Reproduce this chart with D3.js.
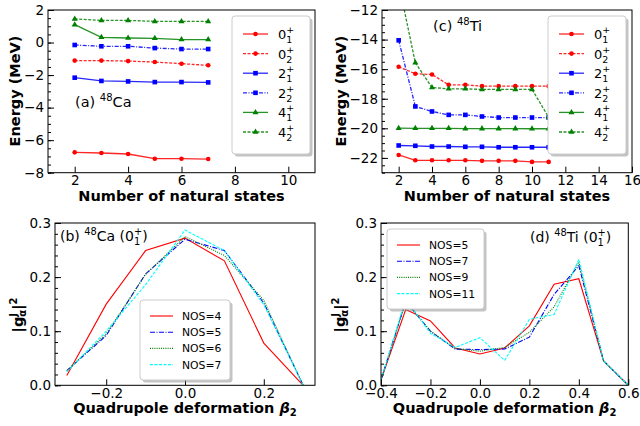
<!DOCTYPE html>
<html>
<head>
<meta charset="utf-8">
<script src="https://cdn.jsdelivr.net/npm/d3@7"></script>
<style>
  body { margin: 0; background: #fff; }
  svg { display: block; font-family: "DejaVu Sans", sans-serif; }
  svg text { white-space: pre; }
</style>
</head>
<body>
<div id="chart"></div>
<script>
// ---- data ----
const natCa = [2, 3, 4, 5, 6, 7];
const caE01 = [-6.75, -6.79, -6.85, -7.14, -7.14, -7.16];
const caE02 = [-1.11, -1.11, -1.14, -1.2, -1.3, -1.4];
const caE21 = [-2.16, -2.36, -2.39, -2.43, -2.43, -2.45];
const caE22 = [-0.15, -0.23, -0.23, -0.34, -0.4, -0.4];
const caE41 = [1.1, 0.32, 0.28, 0.26, 0.18, 0.18];
const caE42 = [1.45, 1.36, 1.36, 1.3, 1.3, 1.3];

const natTi = [2, 3, 4, 5, 6, 7, 8, 9, 10, 11];
const tiE01 = [-21.8, -22.16, -22.16, -22.16, -22.16, -22.2, -22.2, -22.2, -22.27, -22.27];
const tiE02 = [-15.84, -16.31, -16.36, -17.06, -17.06, -17.15, -17.15, -17.15, -17.15, -17.15];
const tiE21 = [-21.16, -21.18, -21.23, -21.23, -21.25, -21.25, -21.28, -21.28, -21.28, -21.28];
const tiE22 = [-14.05, -18.52, -18.86, -19.09, -19.09, -19.2, -19.27, -19.27, -19.27, -19.27];
const tiE41 = [-19.99, -20.0, -20.0, -20.0, -20.02, -20.02, -20.02, -20.02, -20.03, -20.03];
const tiE42 = [-10.2, -15.57, -17.24, -17.33, -17.33, -17.37, -17.37, -17.37, -17.37, -19.25];

const stateNames = [['0', '1'], ['0', '2'], ['2', '1'], ['2', '2'], ['4', '1'], ['4', '2']];

const betaCa = [-0.3, -0.2, -0.1, 0, 0.1, 0.2, 0.3];
const caNos4 = [0.018, 0.15, 0.249, 0.272, 0.23, 0.078, 0];
const caNos5 = [0.027, 0.092, 0.206, 0.27, 0.249, 0.152, 0];
const caNos6 = [0.027, 0.095, 0.205, 0.275, 0.24, 0.157, 0];
const caNos7 = [0.025, 0.1, 0.186, 0.287, 0.249, 0.149, 0];
const caNosLabels = ['NOS=4', 'NOS=5', 'NOS=6', 'NOS=7'];

const betaTi = [-0.4, -0.3, -0.2, -0.1, 0, 0.1, 0.2, 0.3, 0.4, 0.5, 0.6];
const tiNos5 = [0.01, 0.14, 0.119, 0.069, 0.058, 0.069, 0.11, 0.187, 0.197, 0.045, 0];
const tiNos7 = [0.01, 0.155, 0.1, 0.067, 0.066, 0.067, 0.089, 0.168, 0.221, 0.045, 0];
const tiNos9 = [0.01, 0.155, 0.1, 0.068, 0.063, 0.07, 0.098, 0.145, 0.228, 0.045, 0];
const tiNos11 = [0.01, 0.16, 0.096, 0.07, 0.088, 0.046, 0.122, 0.131, 0.233, 0.045, 0];
const tiNosLabels = ['NOS=5', 'NOS=7', 'NOS=9', 'NOS=11'];

// styles for the series
const stateStyles = [
  { color: 'red', dash: null, marker: 'circle' },
  { color: 'red', dash: '3,1.5', marker: 'circle' },
  { color: 'blue', dash: null, marker: 'square' },
  { color: 'blue', dash: '4,1.5,1,1.5', marker: 'square' },
  { color: 'green', dash: null, marker: 'triangle' },
  { color: 'green', dash: '3,1.5', marker: 'triangle' }
];
const nosStyles = [
  { color: 'red', dash: null },
  { color: 'blue', dash: '5,1.5,1,1.5' },
  { color: 'green', dash: '1,1.2' },
  { color: 'cyan', dash: '3,1.5' }
];

const svg = d3.select('#chart')
  .append('svg')
  .attr('width', 640)
  .attr('height', 426);

const minus = s => s.replace('-', '\u2212');

// text made of pieces (super/subscripts), returns total width
function rich(g, x, y, parts, weight) {
  let cx = x;
  let stackW = 0;
  parts.forEach(p => {
    const t = g.append('text')
      .attr('x', cx)
      .attr('y', y + (p.dy || 0))
      .attr('font-size', p.size)
      .attr('font-weight', weight || 'normal')
      .attr('font-style', p.italic ? 'italic' : 'normal')
      .attr('xml:space', 'preserve')
      .attr('fill', '#000')
      .text(p.t);
    const w = t.node().getComputedTextLength();
    if (p.stack) {
      stackW = w;
    } else {
      cx += Math.max(w, stackW);
      stackW = 0;
    }
  });
  return cx - x;
}

function frame(g, x, y) {
  const [x0, x1] = x.range();
  const [y0, y1] = y.range();
  g.append('rect')
    .attr('x', x0).attr('y', y1)
    .attr('width', x1 - x0).attr('height', y0 - y1)
    .attr('fill', 'none')
    .attr('stroke', '#000')
    .attr('stroke-width', 1);
}

function axes(g, x, y, xTicks, yTicks, xFmt, yFmt, yMinor) {
  const yBottom = y.range()[0];
  const xLeft = x.range()[0];
  const ax = g.append('g')
    .attr('transform', 'translate(0,' + yBottom + ')')
    .call(d3.axisBottom(x).tickValues(xTicks).tickFormat(d => minus(xFmt(d)))
      .tickSizeInner(-6).tickSizeOuter(0).tickPadding(3));
  const ay = g.append('g')
    .attr('transform', 'translate(' + xLeft + ',0)')
    .call(d3.axisLeft(y).tickValues(yTicks).tickFormat(d => minus(yFmt(d)))
      .tickSizeInner(-6).tickSizeOuter(0).tickPadding(4));
  g.append('g')
    .attr('transform', 'translate(' + xLeft + ',0)')
    .call(d3.axisLeft(y).tickValues(yMinor).tickFormat('')
      .tickSizeInner(-3).tickSizeOuter(0));
  g.selectAll('.domain').remove();
  [ax, ay].forEach(a => a.selectAll('text')
    .attr('font-size', 13.5)
    .attr('font-family', '"DejaVu Sans", sans-serif')
    .attr('fill', '#000'));
  g.selectAll('.tick line').attr('stroke', '#000').attr('stroke-width', 1);
}

function clipFor(id, x, y) {
  const [x0, x1] = x.range();
  const [y0, y1] = y.range();
  svg.append('clipPath').attr('id', id)
    .append('rect').attr('x', x0).attr('y', y1)
    .attr('width', x1 - x0).attr('height', y0 - y1);
}

function marker(g, type, cx, cy, color) {
  if (type === 'circle') {
    g.append('circle').attr('cx', cx).attr('cy', cy).attr('r', 2.3).attr('fill', color);
  } else if (type === 'square') {
    g.append('rect').attr('x', cx - 2.3).attr('y', cy - 2.3)
      .attr('width', 4.6).attr('height', 4.6).attr('fill', color);
  } else {
    g.append('path').attr('d', d3.symbol(d3.symbolTriangle, 16)())
      .attr('transform', 'translate(' + cx + ',' + cy + ')').attr('fill', color);
  }
}

function legendBox(g, x0, y0, w, h) {
  g.append('rect')
    .attr('x', x0 + 2.5).attr('y', y0 + 2.5).attr('width', w).attr('height', h)
    .attr('rx', 3).attr('fill', '#888').attr('opacity', 0.5);
  g.append('rect')
    .attr('x', x0).attr('y', y0).attr('width', w).attr('height', h)
    .attr('rx', 3).attr('fill', '#fff').attr('stroke', '#ccc').attr('stroke-width', 1);
}

// ---- energy panels ----
function energyPanel(id, nat, series, x, y, xTicks, yTicks, yMinor, legX, label) {
  clipFor(id, x, y);
  const g = svg.append('g');
  const plot = g.append('g').attr('clip-path', 'url(#' + id + ')');
  series.forEach((vals, i) => {
    const st = stateStyles[i];
    const line = d3.line().x((d, j) => x(nat[j])).y(d => y(d));
    plot.append('path')
      .datum(vals)
      .attr('d', line)
      .attr('fill', 'none')
      .attr('stroke', st.color)
      .attr('stroke-opacity', 0.85)
      .attr('stroke-width', 1.3)
      .attr('stroke-dasharray', st.dash);
    vals.forEach((v, j) => marker(plot, st.marker, x(nat[j]), y(v), st.color));
  });
  axes(g, x, y, xTicks, yTicks, d3.format('d'), d3.format('d'), yMinor);
  frame(g, x, y);

  // legend
  const lg = g.append('g');
  legendBox(lg, legX, 16, 78, 138);
  stateNames.forEach((s, i) => {
    const st = stateStyles[i];
    const ly = 34 + i * 19.6;
    lg.append('line')
      .attr('x1', legX + 11).attr('x2', legX + 36)
      .attr('y1', ly).attr('y2', ly)
      .attr('stroke', st.color).attr('stroke-opacity', 0.85)
      .attr('stroke-width', 1.3).attr('stroke-dasharray', st.dash);
    marker(lg, st.marker, legX + 23.5, ly, st.color);
    rich(lg, legX + 46, ly + 5, [
      { t: s[0], size: 13 },
      { t: '+', size: 9.5, dy: -6, stack: true },
      { t: s[1], size: 9.5, dy: 4 }
    ]);
  });

  // panel label
  rich(g, label.x, label.y, [
    { t: label.pre, size: 14.5 },
    { t: label.mass, size: 10, dy: -6 },
    { t: label.el, size: 14.5 }
  ]);

  // axis titles
  const xm = (x.range()[0] + x.range()[1]) / 2;
  const tx = g.append('g');
  const wx = rich(tx, 0, 201, [{ t: 'Number of natural states', size: 14.5 }], 'bold');
  tx.attr('transform', 'translate(' + (xm - wx / 2) + ',0)');
  const ty = g.append('g');
  const wy = rich(ty, 0, 0, [{ t: 'Energy (MeV)', size: 14.5 }], 'bold');
  ty.attr('transform', 'translate(' + label.ylx + ',' + 91 + ') rotate(-90) translate(' + (-wy / 2) + ',0)');
}

const xA = d3.scaleLinear().domain([1, 11]).range([48, 315]);
const yA = d3.scaleLinear().domain([-8, 2]).range([172.7, 10]);
energyPanel('clipA', natCa, [caE01, caE02, caE21, caE22, caE41, caE42], xA, yA,
  [2, 4, 6, 8, 10], d3.range(-8, 2.1, 2), d3.range(-8, 2.01, 0.5), 232,
  { x: 75, y: 107, pre: '(a) ', mass: '48', el: 'Ca', ylx: 20 });

const xC = d3.scaleLinear().domain([1, 16]).range([382, 632]);
const yC = d3.scaleLinear().domain([-23, -12]).range([172.7, 10]);
energyPanel('clipC', natTi, [tiE01, tiE02, tiE21, tiE22, tiE41, tiE42], xC, yC,
  d3.range(2, 16.1, 2), d3.range(-22, -11.9, 2), d3.range(-23, -11.99, 0.5), 548,
  { x: 433, y: 31, pre: '(c) ', mass: '48', el: 'Ti', ylx: 346 });

// ---- weight panels ----
function weightPanel(id, beta, series, names, x, y, xTicks, leg, label) {
  clipFor(id, x, y);
  const g = svg.append('g');
  const plot = g.append('g').attr('clip-path', 'url(#' + id + ')');
  series.forEach((vals, i) => {
    const st = nosStyles[i];
    const line = d3.line().x((d, j) => x(beta[j])).y(d => y(d));
    plot.append('path')
      .datum(vals)
      .attr('d', line)
      .attr('fill', 'none')
      .attr('stroke', st.color)
      .attr('stroke-width', 1.1)
      .attr('stroke-dasharray', st.dash);
  });
  axes(g, x, y, xTicks, [0, 0.1, 0.2, 0.3], d3.format('.1f'), d3.format('.1f'),
    d3.range(0, 0.301, 0.02));
  frame(g, x, y);

  const lg = g.append('g');
  legendBox(lg, leg.x, leg.y, leg.w, leg.h);
  names.forEach((n, i) => {
    const st = nosStyles[i];
    const ly = leg.y + 16 + i * 16.2;
    lg.append('line')
      .attr('x1', leg.x + 10).attr('x2', leg.x + 33)
      .attr('y1', ly).attr('y2', ly)
      .attr('stroke', st.color).attr('stroke-width', 1.1)
      .attr('stroke-dasharray', st.dash);
    rich(lg, leg.x + 42, ly + 4, [{ t: n, size: 10.8 }]);
  });

  rich(g, label.x, label.y, [
    { t: label.pre, size: 14 },
    { t: '48', size: 9.8, dy: -6 },
    { t: label.el + ' (', size: 14 },
    { t: '0', size: 14 },
    { t: '+', size: 9.8, dy: -6, stack: true },
    { t: '1', size: 9.8, dy: 4 },
    { t: ')', size: 14 }
  ]);

  const xm = (x.range()[0] + x.range()[1]) / 2;
  const tx = g.append('g');
  const wx = rich(tx, 0, 413, [
    { t: 'Quadrupole deformation ', size: 14.5 },
    { t: '\u03b2', size: 14.5, italic: true },
    { t: '2', size: 10, dy: 3 }
  ], 'bold');
  tx.attr('transform', 'translate(' + (xm - wx / 2) + ',0)');
  const ty = g.append('g');
  const wy = rich(ty, 0, 0, [
    { t: '|g', size: 14.5 },
    { t: 'J', size: 10, dy: -6, stack: true },
    { t: '\u03b1', size: 10, dy: 3 },
    { t: '|', size: 14.5 },
    { t: '2', size: 10, dy: -6 }
  ], 'bold');
  ty.attr('transform', 'translate(' + label.ylx + ',315) rotate(-90) translate(' + (-wy / 2) + ',0)');
}

const xB = d3.scaleLinear().domain([-0.33, 0.33]).range([55, 315]);
const yB = d3.scaleLinear().domain([0, 0.3]).range([385.3, 223]);
weightPanel('clipB', betaCa, [caNos4, caNos5, caNos6, caNos7], caNosLabels, xB, yB,
  [-0.2, 0, 0.2], { x: 140, y: 300, w: 90, h: 80 },
  { x: 60, y: 241, pre: '(b) ', el: 'Ca', ylx: 23 });

const xD = d3.scaleLinear().domain([-0.4, 0.6]).range([381, 628.3]);
const yD = d3.scaleLinear().domain([0, 0.3]).range([385.3, 223]);
weightPanel('clipD', betaTi, [tiNos5, tiNos7, tiNos9, tiNos11], tiNosLabels, xD, yD,
  [-0.4, -0.2, 0, 0.2, 0.4, 0.6], { x: 387, y: 229, w: 97, h: 80 },
  { x: 530, y: 242, pre: '(d) ', el: 'Ti', ylx: 345 });
</script>
</body>
</html>
